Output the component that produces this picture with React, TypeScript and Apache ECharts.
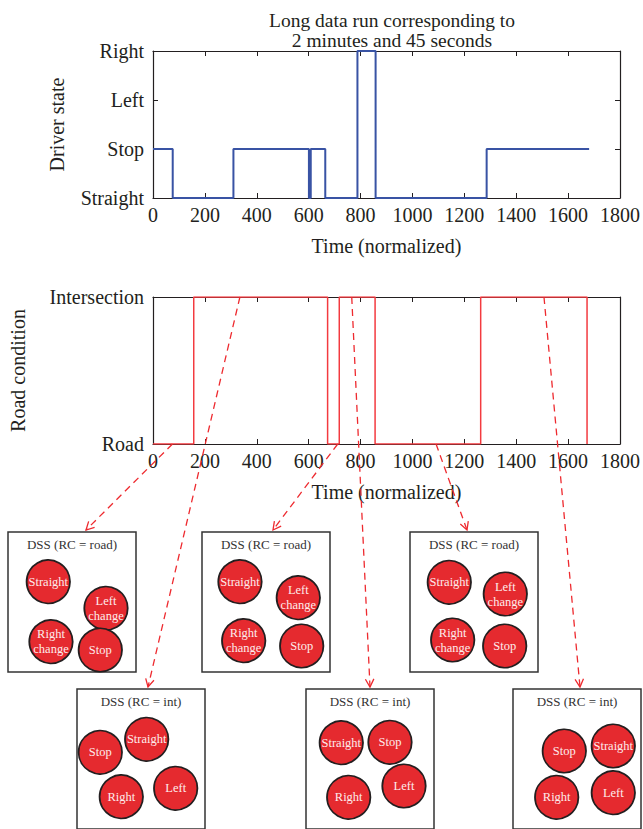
import React, { useEffect, useRef } from "react";
import * as echarts from "echarts";

// ---------- data ----------
const driverStateLabels = ["Straight", "Stop", "Left", "Right"];
const roadConditionLabels = ["Road", "Intersection"];

// state changes: state[i] holds from time[i] until time[i+1]
const driverTimes = [0, 76, 310, 601, 608, 664, 788, 858, 1286, 1681];
const driverStates = [1, 0, 1, 0, 1, 0, 3, 0, 1, 1];

const roadTimes = [0, 157, 673, 718, 856, 1263, 1673];
const roadStates = [0, 1, 0, 1, 0, 1, 0];

const timeMin = 0;
const timeMax = 1800;
const timeStep = 200;

const chartTitle = "Long data run corresponding to\n2 minutes and 45 seconds";
const xName = "Time (normalized)";
const yNameTop = "Driver state";
const yNameBottom = "Road condition";

// DSS panels
const dssRoadTitle = "DSS (RC = road)";
const dssIntTitle = "DSS (RC = int)";
const dssRoadLabels = ["Straight", "Left\nchange", "Right\nchange", "Stop"];
const dssIntLabelsA = ["Stop", "Straight", "Right", "Left"];
const dssIntLabelsB = ["Straight", "Stop", "Right", "Left"];
const dssIntLabelsC = ["Stop", "Straight", "Right", "Left"];

// where each dashed arrow leaves the road-condition trace (time, condition)
const arrowSourceTimes = [75, 335, 712, 766, 1091, 1507];
const arrowSourceStates = [0, 1, 0, 1, 0, 1];

// ---------- layout (pixels) ----------
const FONT = "'Liberation Serif', 'DejaVu Serif', serif";
const TEXT = "#231f20";
const FS = 20;
const BOX_W = 128;
const BOX_H = 140;
const R = 21.7;

const panels = [
  { x: 8, y: 532, title: dssRoadTitle, labels: dssRoadLabels,
    pos: [[40.3, 49.7], [98, 76.3], [43, 109.7], [92.3, 118]], arrowX: 78 },
  { x: 202, y: 532, title: dssRoadTitle, labels: dssRoadLabels,
    pos: [[38, 49.7], [96.3, 65.7], [41.7, 108.7], [99.7, 114]], arrowX: 71 },
  { x: 410, y: 532, title: dssRoadTitle, labels: dssRoadLabels,
    pos: [[39.3, 50.3], [95.3, 62], [42.7, 108], [94.7, 114]], arrowX: 57 },
  { x: 77, y: 689, title: dssIntTitle, labels: dssIntLabelsA,
    pos: [[23.3, 63.3], [69.7, 50.3], [44.3, 107.7], [98.7, 99.3]], arrowX: 71 },
  { x: 306, y: 689, title: dssIntTitle, labels: dssIntLabelsB,
    pos: [[35.3, 53.7], [84, 53.3], [42.7, 108.3], [98, 97]], arrowX: 64 },
  { x: 513, y: 689, title: dssIntTitle, labels: dssIntLabelsC,
    pos: [[51.3, 62], [100.3, 57], [43.7, 108.3], [100.3, 103.7]], arrowX: 67 },
];
// arrows: index into panels, in the order of arrowSource*
const arrowTargets = [0, 3, 1, 4, 2, 5];

function stepData(times: number[], states: number[]) {
  return times.map((t, i) => [t, states[i]]);
}

function axisPair(gridIndex: number) {
  const common = {
    gridIndex,
    type: "value" as const,
    min: timeMin,
    max: timeMax,
    interval: timeStep,
    splitLine: { show: false },
    axisLine: { show: true, onZero: false, lineStyle: { color: TEXT, width: 1.2 } },
    axisTick: { show: true, inside: true, length: 5, lineStyle: { color: TEXT, width: 1 } },
  };
  return [
    {
      ...common,
      position: "bottom",
      name: xName,
      nameLocation: "middle",
      nameGap: 38,
      nameTextStyle: { fontFamily: FONT, fontSize: FS, color: TEXT },
      axisLabel: {
        fontFamily: FONT, fontSize: FS, color: TEXT, margin: 7,
        formatter: (v: number) => String(v),
      },
    },
    { ...common, position: "top", axisLabel: { show: false } },
  ];
}

function yPair(gridIndex: number, labels: string[], name: string, nameGap: number) {
  const common = {
    gridIndex,
    type: "value" as const,
    min: 0,
    max: labels.length - 1,
    interval: 1,
    splitLine: { show: false },
    axisLine: { show: true, onZero: false, lineStyle: { color: TEXT, width: 1.2 } },
    axisTick: { show: true, inside: true, length: 5, lineStyle: { color: TEXT, width: 1 } },
  };
  return [
    {
      ...common,
      position: "left",
      name,
      nameLocation: "middle",
      nameGap,
      nameRotate: 90,
      nameTextStyle: { fontFamily: FONT, fontSize: FS, color: TEXT },
      axisLabel: {
        fontFamily: FONT, fontSize: FS, color: TEXT, margin: 9,
        formatter: (v: number) => labels[v] ?? "",
      },
    },
    { ...common, position: "right", axisLabel: { show: false } },
  ];
}

function buildPanels() {
  const g: any[] = [];
  panels.forEach((p) => {
    g.push({
      type: "rect",
      shape: { x: p.x, y: p.y, width: BOX_W, height: BOX_H },
      style: { fill: "#fff", stroke: "#333", lineWidth: 1.5 },
      z: 10,
    });
    g.push({
      type: "text",
      style: {
        text: p.title, x: p.x + BOX_W / 2, y: p.y + 12,
        align: "center", verticalAlign: "middle",
        fontFamily: FONT, fontSize: 13, fill: "#333",
      },
      z: 11,
    });
    p.pos.forEach((c, i) => {
      g.push({
        type: "circle",
        shape: { cx: p.x + c[0], cy: p.y + c[1], r: R },
        style: { fill: "#e52a2f", stroke: "#231f20", lineWidth: 1.8 },
        z: 11,
      });
      g.push({
        type: "text",
        style: {
          text: p.labels[i], x: p.x + c[0], y: p.y + c[1],
          align: "center", verticalAlign: "middle",
          fontFamily: FONT, fontSize: 12.5, lineHeight: 15, fill: "#fdecec",
        },
        z: 12,
      });
    });
  });
  return g;
}

function buildArrows(chart: echarts.ECharts) {
  const g: any[] = [];
  const red = "#ee2a2f";
  arrowSourceTimes.forEach((t, i) => {
    const src = chart.convertToPixel({ gridIndex: 1 } as any, [t, arrowSourceStates[i]]) as number[];
    const p = panels[arrowTargets[i]];
    const tip = [p.x + p.arrowX, p.y - 2];
    g.push({
      type: "line",
      shape: { x1: src[0], y1: src[1], x2: tip[0], y2: tip[1] },
      style: { stroke: red, lineWidth: 1.3, lineDash: [7, 5] },
      z: 20,
    });
    const dx = tip[0] - src[0];
    const dy = tip[1] - src[1];
    const len = Math.sqrt(dx * dx + dy * dy);
    const ux = dx / len;
    const uy = dy / len;
    const L = 9;
    const a = (28 * Math.PI) / 180;
    const w1 = [tip[0] - L * (ux * Math.cos(a) - uy * Math.sin(a)), tip[1] - L * (uy * Math.cos(a) + ux * Math.sin(a))];
    const w2 = [tip[0] - L * (ux * Math.cos(a) + uy * Math.sin(a)), tip[1] - L * (uy * Math.cos(a) - ux * Math.sin(a))];
    g.push({
      type: "polyline",
      shape: { points: [w1, tip, w2] },
      style: { stroke: red, lineWidth: 1.3, fill: null },
      z: 20,
    });
  });
  return g;
}

export default function App() {
  const ref = useRef<HTMLDivElement>(null);
  useEffect(() => {
    if (!ref.current) return;
    const chart = echarts.init(ref.current, undefined, { renderer: "svg" });
    const option: any = {
      animation: false,
      backgroundColor: "#fff",
      textStyle: { fontFamily: FONT },
      title: {
        text: chartTitle,
        left: 387,
        top: 5,
        textAlign: "center",
        textStyle: { fontFamily: FONT, fontSize: 19.5, fontWeight: "normal", color: TEXT, lineHeight: 20 },
      },
      grid: [
        { left: 153, top: 51, width: 468, height: 147 },
        { left: 153, top: 297, width: 468, height: 147 },
      ],
      xAxis: [...axisPair(0), ...axisPair(1)],
      yAxis: [
        ...yPair(0, driverStateLabels, yNameTop, 86),
        ...yPair(1, roadConditionLabels, yNameBottom, 125),
      ],
      series: [
        {
          type: "line",
          xAxisIndex: 0,
          yAxisIndex: 0,
          step: "end",
          showSymbol: false,
          data: stepData(driverTimes, driverStates),
          lineStyle: { color: "#3953a4", width: 2 },
        },
        {
          type: "line",
          xAxisIndex: 2,
          yAxisIndex: 2,
          step: "end",
          showSymbol: false,
          data: stepData(roadTimes, roadStates),
          lineStyle: { color: "#f33a3f", width: 1.5 },
        },
      ],
      graphic: buildPanels(),
    };
    chart.setOption(option);
    chart.setOption({ graphic: [...buildPanels(), ...buildArrows(chart)] }, { replaceMerge: ["graphic"] } as any);
    return () => chart.dispose();
  }, []);
  return (
    <div
      ref={ref}
      style={{ position: "absolute", left: 0, top: 0, width: 643, height: 829 }}
    />
  );
}
